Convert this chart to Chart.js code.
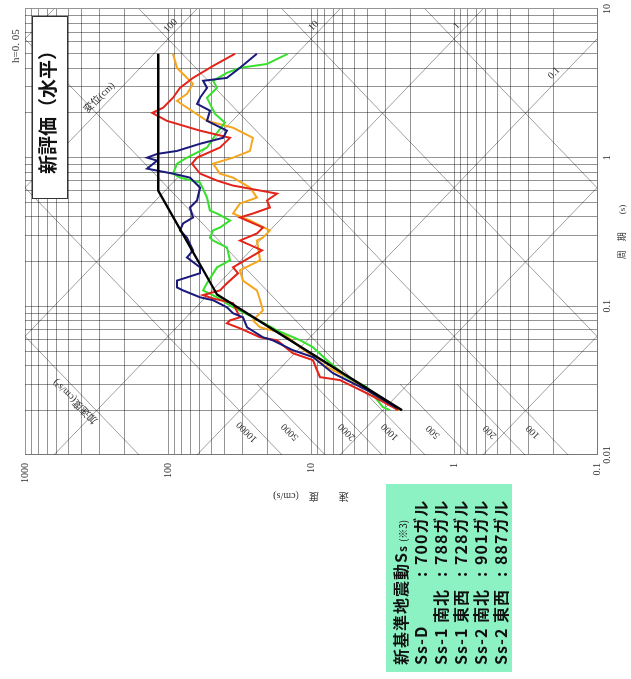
<!DOCTYPE html>
<html>
<head>
<meta charset="utf-8">
<script src="https://cdn.jsdelivr.net/npm/chart.js@4.4.0/dist/chart.umd.min.js"></script>
<style>
html, body { margin: 0; padding: 0; background: #fff; overflow: hidden; }
/* the chart is drawn upright and then turned a quarter turn to the left */
#page { position: absolute; left: 0; top: 0; width: 679px; height: 631px;
        transform-origin: 0 0; transform: translateY(679px) rotate(-90deg); background: #fff; }
#chart { position: absolute; left: 0; top: 0; }
#title { position: absolute; left: 480px; top: 32px; width: 183px; height: 36px; box-sizing: border-box;
         border: 1.5px solid #333; background: #fff; text-align: center; line-height: 33px;
         font: bold 19px "Noto Sans CJK JP"; color: #111; }
#hval { position: absolute; left: 616px; top: 9px; font: 11px "Liberation Serif"; color: #333; }
#legend { position: absolute; left: 7px; top: 386px; width: 188px; height: 126px; background: #8cf2c4;
          font: bold 16px "Noto Sans CJK JP"; color: #111; }
#legend .ln { position: absolute; left: 7px; height: 20px; line-height: 20px; white-space: nowrap; letter-spacing: 1px; }
#legend .k { display: inline-block; width: 88px; }
#legend .c { display: inline-block; width: 12px; }
#legend .sub { font-size: 12px; }
#legend .note { font: 10px "Noto Sans CJK JP"; margin-left: 3px; letter-spacing: 0; }
</style>
</head>
<body>
<div id="page">
  <canvas id="chart" width="679" height="631"></canvas>
  <div id="title">新評価（水平）</div>
  <div id="hval">h=0. 05</div>
  <div id="legend">
    <div class="ln" style="top:4px">新基準地震動S<span class="sub">s</span><span class="note">(※3)</span></div>
    <div class="ln" style="top:24px"><span class="k">Ss-D</span><span class="c">:</span>700ガル</div>
    <div class="ln" style="top:44px"><span class="k">Ss-1 南北</span><span class="c">:</span>788ガル</div>
    <div class="ln" style="top:64px"><span class="k">Ss-1 東西</span><span class="c">:</span>728ガル</div>
    <div class="ln" style="top:84px"><span class="k">Ss-2 南北</span><span class="c">:</span>901ガル</div>
    <div class="ln" style="top:104px"><span class="k">Ss-2 東西</span><span class="c">:</span>887ガル</div>
  </div>
</div>
<script>
// Axis ranges
const periodMin = 0.01, periodMax = 10;
const velMin = 0.1, velMax = 1000;

// Tripartite guide lines: displacement (cm) and acceleration (cm/s2)
const dispLines = [0.0001, 0.001, 0.01, 0.1, 1, 10, 100, 1000, 10000];
const accLines = [1, 10, 100, 1000, 10000, 100000, 1000000];
const accShortLines = [200, 500, 2000, 5000];
const dispLabels = ['100', '10', '1', '0.1'];
const dispLabelT = [7.7, 7.7, 7.7, 3.7];
const accLabels = ['10000', '5000', '2000', '1000', '500', '200', '100'];

// Ss-D design spectrum (period s, velocity cm/s)
const ssdT = [0.02, 0.12, 0.6, 5.0];
const ssdV = [2.31, 45.4, 117, 117];

// Ss-1 NS (navy)
const s1nsT = [5.0, 4.02, 3.44, 3.29, 2.95, 2.53, 2.30, 2.07, 1.77, 1.52, 1.36, 1.24, 1.11, 1.06, 1.00, 0.955, 0.844, 0.818, 0.781, 0.734, 0.629, 0.515, 0.462, 0.396, 0.361, 0.324, 0.290, 0.238, 0.213, 0.183, 0.167, 0.149, 0.134, 0.128, 0.115, 0.110, 0.0985, 0.0898, 0.0844, 0.0723, 0.0619, 0.0591, 0.0507, 0.0455, 0.0355, 0.0273, 0.0207];
const s1nsV = [23.9, 31.4, 38.7, 56.9, 53.4, 59.7, 62.7, 50.9, 53.4, 38.7, 41.2, 59.7, 86.5, 119, 140, 119, 140, 119, 92.3, 70.2, 59.7, 62.7, 70.2, 66.9, 78.5, 82.4, 73.6, 66.9, 73.6, 59.7, 59.7, 86.5, 86.5, 78.5, 59.7, 48.4, 38.7, 35.1, 29.9, 28.0, 21.7, 18.5, 13.4, 9.68, 7.02, 4.06, 2.51];

// Ss-1 EW (orange)
const s1ewT = [5.0, 4.02, 3.44, 3.14, 2.69, 2.41, 2.17, 1.77, 1.59, 1.36, 1.11, 1.00, 0.911, 0.781, 0.734, 0.629, 0.539, 0.491, 0.421, 0.378, 0.324, 0.290, 0.277, 0.204, 0.175, 0.149, 0.128, 0.110, 0.094, 0.0805, 0.0723, 0.0659, 0.0531, 0.0390, 0.0334, 0.0273, 0.0210, 0.0200];
const s1ewV = [92.3, 86.5, 73.6, 66.9, 73.6, 86.5, 73.6, 53.4, 35.1, 25.5, 26.7, 35.1, 48.4, 43.3, 35.1, 26.7, 23.9, 31.4, 35.1, 26.7, 19.4, 21.7, 23.9, 22.7, 31.4, 29.9, 23.9, 22.7, 21.7, 25.5, 22.7, 15.7, 11.9, 7.73, 5.60, 4.06, 2.67, 2.39];

// Ss-2 NS (red)
const s2nsT = [5.0, 4.14, 3.44, 2.95, 2.53, 2.17, 2.00, 1.77, 1.52, 1.36, 1.17, 1.00, 0.911, 0.781, 0.701, 0.649, 0.601, 0.573, 0.515, 0.462, 0.421, 0.396, 0.339, 0.309, 0.277, 0.238, 0.204, 0.183, 0.167, 0.143, 0.128, 0.119, 0.113, 0.105, 0.0844, 0.0805, 0.0769, 0.0712, 0.0619, 0.0591, 0.0484, 0.0434, 0.0372, 0.0334, 0.0319, 0.0260, 0.0210, 0.0200];
const s2nsV = [34.0, 48.4, 66.9, 82.4, 92.3, 108, 129, 102, 59.7, 36.8, 43.3, 62.7, 68.0, 59.7, 45.4, 35.1, 22.7, 17.3, 20.3, 19.4, 25.5, 31.4, 21.7, 23.9, 31.4, 22.0, 29.0, 35.1, 32.4, 38.7, 43.3, 56.9, 48.4, 35.1, 31.4, 36.8, 38.7, 31.4, 22.7, 17.3, 13.4, 9.68, 9.08, 8.65, 6.27, 4.06, 2.67, 2.46];

// Ss-2 EW (green)
const s2ewT = [5.0, 4.27, 4.02, 3.72, 3.29, 2.95, 2.53, 1.97, 1.72, 1.41, 1.17, 1.00, 0.911, 0.781, 0.734, 0.680, 0.539, 0.441, 0.421, 0.378, 0.339, 0.324, 0.290, 0.277, 0.249, 0.204, 0.183, 0.143, 0.128, 0.115, 0.0985, 0.0844, 0.069, 0.0591, 0.0531, 0.0434, 0.0334, 0.0286, 0.0210, 0.0200];
const s2ewV = [14.5, 20.3, 31.4, 38.7, 48.4, 45.4, 53.4, 46.9, 40.0, 46.9, 53.4, 73.6, 86.5, 92.3, 82.4, 59.7, 53.4, 50.9, 45.4, 36.8, 43.3, 48.4, 50.9, 48.4, 38.7, 36.8, 45.4, 53.4, 56.9, 45.4, 35.1, 25.5, 17.3, 11.9, 9.68, 7.73, 5.60, 4.06, 3.14, 2.80];

const TWO_PI = 2 * Math.PI;

// Build points from the period / velocity arrays
function toPoints(tArr, vArr) {
    return tArr.map((t, i) => ({ x: t, y: vArr[i] }));
}

// 1..9 ticks in every decade
function logTicks(min, max) {
    const ticks = [];
    for (let e = Math.round(Math.log10(min)); e < Math.round(Math.log10(max)); e++) {
        for (let m = 1; m < 10; m++) ticks.push({ value: m * Math.pow(10, e) });
    }
    ticks.push({ value: max });
    return ticks;
}

function decadeLabel(v) {
    const l = Math.log10(v);
    if (Math.abs(l - Math.round(l)) > 1e-6) return '';
    return String(Number(v.toPrecision(3)));
}

// Diagonal displacement / acceleration lines of the tripartite paper
const tripartitePlugin = {
    id: 'tripartite',
    beforeDatasetsDraw(chart) {
        const { ctx, chartArea: a, scales: { x, y } } = chart;
        const seg = (t1, v1, t2, v2) => {
            ctx.beginPath();
            ctx.moveTo(x.getPixelForValue(t1), y.getPixelForValue(v1));
            ctx.lineTo(x.getPixelForValue(t2), y.getPixelForValue(v2));
            ctx.stroke();
        };
        ctx.save();
        ctx.beginPath();
        ctx.rect(a.left, a.top, a.right - a.left, a.bottom - a.top);
        ctx.clip();
        ctx.strokeStyle = 'rgba(0,0,0,0.38)';
        ctx.lineWidth = 1;
        dispLines.forEach(d => seg(periodMin, TWO_PI * d / periodMin, periodMax, TWO_PI * d / periodMax));
        accLines.forEach(g => seg(periodMin, g * periodMin / TWO_PI, periodMax, g * periodMax / TWO_PI));
        accShortLines.forEach(g => seg(periodMin, g * periodMin / TWO_PI, 0.03, g * 0.03 / TWO_PI));
        ctx.restore();

        // labels
        ctx.save();
        ctx.fillStyle = '#333';
        ctx.textAlign = 'center';
        ctx.textBaseline = 'middle';
        ctx.font = '10px "Liberation Serif"';
        const text = (s, px, py, ang) => {
            ctx.save();
            ctx.translate(px, py);
            ctx.rotate(ang);
            ctx.fillText(s, 0, 0);
            ctx.restore();
        };
        dispLabels.forEach((s, i) => {
            const t = dispLabelT[i];
            const v = TWO_PI * Number(s) / t;
            text(s, x.getPixelForValue(t), y.getPixelForValue(v) - 10, Math.PI / 4);
        });
        const tAcc = 0.0143;
        accLabels.forEach(s => {
            const v = Number(s) * tAcc / TWO_PI;
            text(s, x.getPixelForValue(tAcc), y.getPixelForValue(v) - 13, -Math.PI / 4);
        });
        ctx.font = '10px "Liberation Serif", "Noto Sans CJK JP"';
        const tD = 2.53;
        text('変位(cm)', x.getPixelForValue(tD), y.getPixelForValue(TWO_PI * 100 / tD) - 12, Math.PI / 4);
        const tA = 0.023;
        text('加速度(cm/s²)', x.getPixelForValue(tA), y.getPixelForValue(100000 * tA / TWO_PI) - 12, -Math.PI / 4);
        ctx.restore();
    }
};

const gridColor = 'rgba(0,0,0,0.42)';
const tickFont = { family: '"Liberation Serif"', size: 10 };

new Chart(document.getElementById('chart').getContext('2d'), {
    type: 'line',
    data: {
        datasets: [
            { label: 'Ss-D', data: toPoints(ssdT, ssdV), borderColor: '#000000', borderWidth: 2.4 },
            { label: 'Ss-1 南北', data: toPoints(s1nsT, s1nsV), borderColor: '#1b1a7a', borderWidth: 2 },
            { label: 'Ss-2 南北', data: toPoints(s2nsT, s2nsV), borderColor: '#e3241b', borderWidth: 2 },
            { label: 'Ss-2 東西', data: toPoints(s2ewT, s2ewV), borderColor: '#37e02c', borderWidth: 2 },
            { label: 'Ss-1 東西', data: toPoints(s1ewT, s1ewV), borderColor: '#f5a51e', borderWidth: 2 }
        ]
    },
    options: {
        responsive: false,
        animation: false,
        devicePixelRatio: 1,
        layout: { padding: { left: 177, right: 8, top: 25, bottom: 0 } },
        elements: { point: { radius: 0 }, line: { tension: 0, fill: false } },
        plugins: { legend: { display: false }, tooltip: { enabled: false } },
        scales: {
            x: {
                type: 'logarithmic',
                min: periodMin,
                max: periodMax,
                afterBuildTicks: s => { s.ticks = logTicks(periodMin, periodMax); },
                afterFit: s => { s.height = 34; },
                ticks: { callback: v => decadeLabel(v), autoSkip: false, maxRotation: 0, padding: 4, color: '#333', font: tickFont },
                grid: { color: gridColor, drawTicks: false },
                border: { color: '#777' },
                title: { display: true, text: '周　期　　(s)', color: '#333', font: { family: '"Liberation Serif", "Noto Sans CJK JP"', size: 9 }, padding: { top: 0, bottom: 3 } }
            },
            y: {
                type: 'logarithmic',
                min: velMin,
                max: velMax,
                afterBuildTicks: s => { s.ticks = logTicks(velMin, velMax); },
                afterFit: s => { s.width = 47; },
                ticks: { callback: v => decadeLabel(v), autoSkip: false, padding: 8, color: '#333', font: tickFont },
                grid: { color: gridColor, drawTicks: false },
                border: { color: '#777' },
                title: { display: true, text: '速　　度　(cm/s)', color: '#333', font: { family: '"Liberation Serif", "Noto Sans CJK JP"', size: 10 }, padding: 0 }
            }
        }
    },
    plugins: [tripartitePlugin]
});
</script>
</body>
</html>
